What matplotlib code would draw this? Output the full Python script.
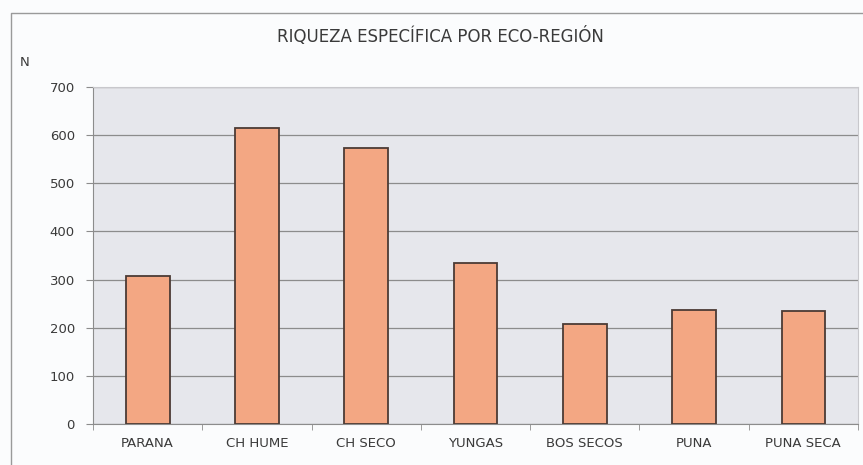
import matplotlib
matplotlib.use("Agg")
import matplotlib.pyplot as plt
import numpy as np
from matplotlib.lines import Line2D

regiones = ['PARANA', 'CH HUME', 'CH SECO', 'YUNGAS', 'BOS SECOS', 'PUNA', 'PUNA SECA']
riqueza = [307, 615, 574, 335, 207, 237, 234]
y_ticks = [0, 100, 200, 300, 400, 500, 600, 700]

plt.rcParams['font.family'] = ['DejaVu Sans']

fig = plt.figure(figsize=(8.63, 4.65), dpi=100)
fig.patch.set_facecolor('#fbfcfd')

# frame of the chart (only the top and left edges fall inside the scan)
fig.lines.append(Line2D([11 / 863, 11 / 863, 1.0], [0.0, 1 - 13 / 465, 1 - 13 / 465],
                        transform=fig.transFigure, color='#9a9a9a', linewidth=1.0))

ax = fig.add_axes([93 / 863, (465 - 424) / 465, (858 - 93) / 863, (424 - 87) / 465])
ax.set_facecolor('#e6e7ec')

x = np.arange(len(regiones))
ax.bar(x, riqueza, width=0.4, color='#f3a783', edgecolor='#4b3b35', linewidth=1.3, zorder=3)

ax.set_xlim(-0.5, len(regiones) - 0.5)
ax.set_ylim(0, 700)
ax.set_yticks(y_ticks)
ax.set_yticklabels([str(v) for v in y_ticks], fontsize=9.5, color='#3a3a3a')
ax.yaxis.grid(True, color='#8c8c8c', linewidth=0.9, zorder=1)

ax.set_xticks(x)
ax.set_xticklabels(regiones, fontsize=9.5, color='#3a3a3a')
ax.tick_params(axis='x', length=0, pad=9)
ax.set_xticks(np.arange(len(regiones) + 1) - 0.5, minor=True)
ax.tick_params(axis='x', which='minor', length=4, color='#8c8c8c', direction='out')
ax.tick_params(axis='y', length=5, color='#8c8c8c', direction='out', pad=8)

ax.spines['left'].set_color('#8c8c8c')
ax.spines['bottom'].set_color('#8c8c8c')
ax.spines['top'].set_color('#c8c8cc')
ax.spines['right'].set_color('#c8c8cc')

fig.text(440 / 863, 1 - 37 / 465, 'RIQUEZA ESPECÍFICA POR ECO-REGIÓN', ha='center', va='center',
         fontsize=12, color='#3a3a3a')
fig.text(25 / 863, 1 - 62 / 465, 'N', ha='center', va='center', fontsize=9.5, color='#3a3a3a')

fig.savefig('out.png', dpi=100, facecolor=fig.get_facecolor())
